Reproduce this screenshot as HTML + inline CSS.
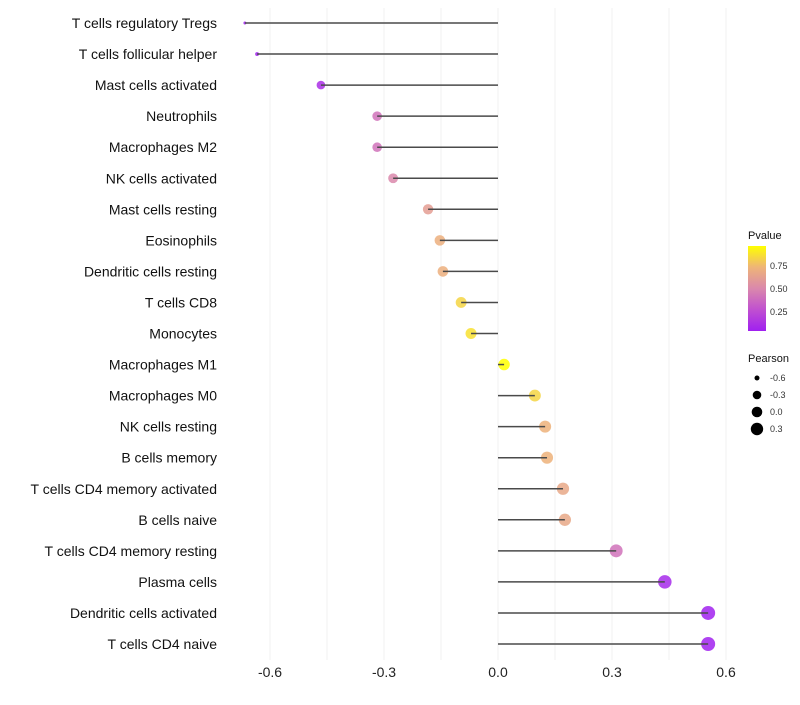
<!DOCTYPE html>
<html><head><meta charset="utf-8"><style>
body{margin:0;background:#fff;}
svg text{font-family:"Liberation Sans",sans-serif;}
</style></head><body>
<svg id="chart" width="800" height="700">
<g id="grid"></g><g id="marks"></g><g id="labels"></g><g id="legend"></g>
</svg>
<script>
const categories=["T cells regulatory  Tregs","T cells follicular helper","Mast cells activated","Neutrophils","Macrophages M2","NK cells activated","Mast cells resting","Eosinophils","Dendritic cells resting","T cells CD8","Monocytes","Macrophages M1","Macrophages M0","NK cells resting","B cells memory","T cells CD4 memory activated","B cells naive","T cells CD4 memory resting","Plasma cells","Dendritic cells activated","T cells CD4 naive"];
const pearson=[-0.666,-0.634,-0.466,-0.318,-0.318,-0.276,-0.184,-0.153,-0.145,-0.097,-0.071,0.016,0.097,0.124,0.129,0.171,0.176,0.311,0.439,0.553,0.553];
const pvalue=[0.0,0.01,0.08,0.4,0.4,0.5,0.62,0.72,0.72,0.86,0.9,1.0,0.86,0.74,0.74,0.68,0.68,0.4,0.05,0.01,0.01];
const xTicks=[-0.6,-0.3,0.0,0.3,0.6];
const xTickLabels=["-0.6","-0.3","0.0","0.3","0.6"];
const NS="http://www.w3.org/2000/svg";
const x=v=>498+v*380;
const y=i=>23+i*31.05;
function rad(v){if(v<-0.466)return Math.max(4.3+(v+0.466)*14,1.2);return Math.sqrt(18.5+30*(v+0.466));}
const stops=[[0,[160,32,240]],[0.25,[192,80,208]],[0.5,[218,136,172]],[0.75,[238,180,120]],[1,[255,255,0]]];
function col(p){for(let k=0;k<stops.length-1;k++){const [p0,a]=stops[k],[p1,b]=stops[k+1];if(p<=p1){const t=(p-p0)/(p1-p0);return `rgb(${a.map((c,j)=>Math.round(c+(b[j]-c)*t)).join(',')})`;}}return 'rgb(255,255,0)';}
function mk(t,at,par){const e=document.createElementNS(NS,t);for(const k in at)e.setAttribute(k,at[k]);document.getElementById(par).appendChild(e);return e;}
for(let v=-0.6;v<=0.61;v+=0.15){
 const g=mk('line',{x1:x(v),x2:x(v),y1:8,y2:660,stroke:'#f2f2f2','stroke-width':1},'grid');
 
 
}
xTicks.forEach((t,i)=>{
 const e=mk('text',{x:x(t),y:677,'text-anchor':'middle','font-size':14,fill:'#222'},'labels');e.textContent=xTickLabels[i];
 
 
});
categories.forEach((c,i)=>{
 const e=mk('text',{x:217,y:y(i)+5,'text-anchor':'end','font-size':14,fill:'#111'},'labels');e.textContent=c;
 
 
 const p=mk('circle',{cx:x(pearson[i]),cy:y(i),r:rad(pearson[i]),fill:col(pvalue[i]),'fill-opacity':0.85},'marks');
 
 
 const l=mk('line',{x1:x(0),x2:x(pearson[i]),y1:y(i),y2:y(i),stroke:'#4a4a4a','stroke-width':1.5},'marks');
 
 
});
const lg=document.getElementById('legend');
lg.innerHTML=`<defs><linearGradient id="gr" x1="0" y1="1" x2="0" y2="0"><stop offset="0" stop-color="rgb(160,32,240)"/><stop offset="0.25" stop-color="rgb(192,80,208)"/><stop offset="0.5" stop-color="rgb(218,136,172)"/><stop offset="0.75" stop-color="rgb(238,180,120)"/><stop offset="1" stop-color="#ffff00"/></linearGradient></defs>
<text x="748" y="239" font-size="11" fill="#111">Pvalue</text>
<rect x="748" y="246" width="18" height="85" fill="url(#gr)"/>
<text x="770" y="269" font-size="9" fill="#333">0.75</text>
<text x="770" y="292" font-size="9" fill="#333">0.50</text>
<text x="770" y="315" font-size="9" fill="#333">0.25</text>
<text x="748" y="362" font-size="11" fill="#111">Pearson</text>
<circle cx="757" cy="378" r="2.5" fill="#000"/><text x="770" y="381" font-size="9" fill="#333">-0.6</text>
<circle cx="757" cy="395" r="4.3" fill="#000"/><text x="770" y="398" font-size="9" fill="#333">-0.3</text>
<circle cx="757" cy="412" r="5.3" fill="#000"/><text x="770" y="415" font-size="9" fill="#333">0.0</text>
<circle cx="757" cy="429" r="6.2" fill="#000"/><text x="770" y="432" font-size="9" fill="#333">0.3</text>`;
</script>
</body></html>
